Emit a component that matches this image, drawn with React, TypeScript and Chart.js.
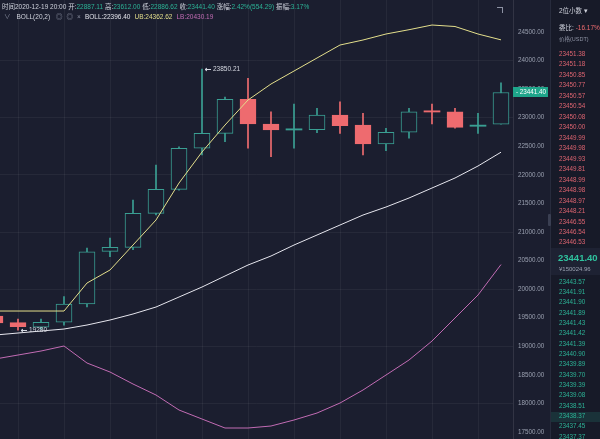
import React, { useEffect, useRef } from "react";
import { Chart, registerables } from "chart.js";

Chart.register(...registerables);

// ---------------- data ----------------
const candleIdx = [0, 1, 2, 3, 4, 5, 6, 7, 8, 9, 10, 11, 12, 13, 14, 15, 16, 17, 18, 19, 20, 21, 22];
const opens = [19530, 19415, 19335, 19420, 19740, 20660, 20730, 21325, 21745, 22465, 22727, 23322, 22890, 22785, 22790, 23045, 22870, 22540, 22745, 23110, 23105, 22850, 22887.11];
const highs = [19560, 19475, 19475, 19870, 20720, 20895, 21560, 22170, 22490, 23850.21, 23360, 23690, 23105, 23240, 23165, 23280, 23077, 22815, 23165, 23240, 23165, 23077, 23612.0];
const lows = [19380, 19280, 19300, 19370, 19690, 20570, 20690, 21300, 21730, 22350, 22580, 22465, 22320, 22465, 22740, 22727, 22350, 22425, 22640, 22890, 22815, 22727, 22886.62];
const closes = [19408, 19345, 19420, 19740, 20655, 20730, 21325, 21745, 22465, 22727, 23322, 22890, 22785, 22800, 23045, 22860, 22540, 22745, 23105, 23100, 22832, 22860, 23441.4];

const bollUpper = [19617, 19617, 19617, 19617, 20107, 20335, 20772, 21210, 21857, 22400, 22872, 23310, 23590, 23817, 24045, 24272, 24360, 24465, 24540, 24622, 24596, 24465, 24362.62];
const bollMid = [19197, 19232, 19267, 19302, 19372, 19460, 19565, 19687, 19862, 20037, 20230, 20422, 20580, 20772, 20947, 21122, 21297, 21437, 21595, 21770, 21945, 22155, 22396.4];
const bollLower = [18777, 18847, 18917, 19005, 18707, 18550, 18340, 18147, 17885, 17727, 17570, 17570, 17605, 17710, 17832, 18007, 18235, 18497, 18760, 19092, 19495, 19897, 20430.19];

const yTicks = [17500, 18000, 18500, 19000, 19500, 20000, 20500, 21000, 21500, 22000, 22500, 23000, 23500, 24000, 24500];
const xGrid = [1, 3, 5, 7, 9, 11, 13, 15, 17, 19, 21];

const askPrices = ["23451.38", "23451.18", "23450.85", "23450.77", "23450.57", "23450.54", "23450.08", "23450.00", "23449.99", "23449.98", "23449.93", "23449.81", "23448.99", "23448.98", "23448.97", "23448.21", "23446.55", "23446.54", "23446.53"];
const bidPrices = ["23443.57", "23441.91", "23441.90", "23441.89", "23441.43", "23441.42", "23441.39", "23440.90", "23439.89", "23439.70", "23439.39", "23439.08", "23438.51", "23438.37", "23437.45", "23437.37"];

const headerTime = "2020-12-19 20:00";
const headerOpen = "22887.11";
const headerHigh = "23612.00";
const headerLow = "22886.62";
const headerClose = "23441.40";
const headerChange = "2.42%(554.29)";
const headerAmp = "3.17%";
const bollMidLabel = "22396.40";
const bollUpLabel = "24362.62";
const bollLowLabel = "20430.19";
const bookRatio = "-16.17%";
const lastCny = "¥150024.96";

// ---------------- styles ----------------
const BG = "#1b1e2f";
const PANEL_BG = "#171a28";
const UP = "#3a9f93";
const DOWN = "#ee6b6f";
const YELLOW = "#e4df8c";
const MIDC = "#e6e6ee";
const LOWC = "#c26cb4";
const TEAL = "#2cb396";
const LABEL = "#cfd2dc";
const GRAY = "#8d92a3";
const GRID = "rgba(255,255,255,0.05)";
const FONT = '"Liberation Sans", "Noto Sans CJK SC", sans-serif';

const X_MIN = 5 / 23;
const X_MAX = 518 / 23;
const Y_MIN = 17377.5;
const Y_MAX = 25060;

const overlayPlugin = {
  id: "overlay",
  afterDraw(chart: any) {
    const { ctx, chartArea, scales } = chart;
    const xs = scales.x;
    const ys = scales.y;
    ctx.save();
    ctx.font = `6.5px ${FONT}`;
    ctx.textBaseline = "middle";
    ctx.fillStyle = "#d4d7e0";
    ctx.strokeStyle = "#d4d7e0";
    ctx.lineWidth = 1;

    const marker = (idx: number, val: number) => {
      const px = Math.round(xs.getPixelForValue(candleIdx[idx])) + 3;
      const py = Math.round(ys.getPixelForValue(val)) + 0.5;
      ctx.beginPath();
      ctx.moveTo(px, py);
      ctx.lineTo(px + 6, py);
      ctx.moveTo(px, py);
      ctx.lineTo(px + 2, py - 1.5);
      ctx.moveTo(px, py);
      ctx.lineTo(px + 2, py + 1.5);
      ctx.stroke();
      ctx.fillText(String(val), px + 8, py);
    };
    const hi = Math.max(...highs);
    marker(highs.indexOf(hi), hi);
    const lo = Math.min(...lows);
    marker(lows.indexOf(lo), lo);

    // last price tag on the axis
    const last = closes[closes.length - 1];
    const ty = ys.getPixelForValue(last);
    ctx.fillStyle = "#1ea58a";
    ctx.fillRect(chartArea.right, Math.round(ty) - 5, 35, 10);
    ctx.fillStyle = "#ffffff";
    ctx.font = `6.3px ${FONT}`;
    ctx.fillText("- " + last.toFixed(2), chartArea.right + 3, Math.round(ty) + 0.5);
    ctx.restore();
  },
};

export default function App() {
  const ref = useRef<HTMLCanvasElement>(null);

  useEffect(() => {
    document.body.style.margin = "0";
    const isUp = opens.map((o, i) => closes[i] >= o);
    const isDoji = opens.map((o, i) => Math.abs(closes[i] - o) < 40);
    const chart = new Chart(ref.current as HTMLCanvasElement, {
      type: "bar",
      data: {
        datasets: [
          {
            type: "line",
            label: "UB",
            data: candleIdx.map((x, i) => ({ x, y: bollUpper[i] })),
            borderColor: YELLOW,
            borderWidth: 1,
            pointRadius: 0,
            order: 0,
          } as any,
          {
            type: "line",
            label: "BOLL",
            data: candleIdx.map((x, i) => ({ x, y: bollMid[i] })),
            borderColor: MIDC,
            borderWidth: 1,
            pointRadius: 0,
            order: 0,
          } as any,
          {
            type: "line",
            label: "LB",
            data: candleIdx.map((x, i) => ({ x, y: bollLower[i] })),
            borderColor: LOWC,
            borderWidth: 1,
            pointRadius: 0,
            order: 0,
          } as any,
          {
            type: "bar",
            label: "body",
            data: candleIdx.map((x, i) => ({ x, y: [opens[i], closes[i]] })),
            backgroundColor: isUp.map((u, i) => (u && !isDoji[i] ? BG : u ? UP : DOWN)),
            borderColor: isUp.map((u) => (u ? UP : DOWN)),
            borderWidth: isDoji.map((d) => (d ? 0 : 1)),
            borderSkipped: false,
            barThickness: 16,
            minBarLength: 1.2,
            grouped: false,
            order: 1,
          } as any,
          {
            type: "bar",
            label: "wick",
            data: candleIdx.map((x, i) => ({ x, y: [lows[i], highs[i]] })),
            backgroundColor: isUp.map((u) => (u ? UP : DOWN)),
            borderWidth: 0,
            barThickness: 1,
            grouped: false,
            order: 2,
          } as any,
        ],
      },
      options: {
        animation: false,
        responsive: false,
        maintainAspectRatio: false,
        devicePixelRatio: 1,
        layout: { padding: 0 },
        plugins: { legend: { display: false }, tooltip: { enabled: false } },
        scales: {
          x: {
            type: "linear",
            min: X_MIN,
            max: X_MAX,
            offset: false,
            ticks: { display: false },
            grid: { color: GRID, drawTicks: false, offset: false },
            border: { display: false },
            afterBuildTicks: (s: any) => {
              s.ticks = xGrid.map((v) => ({ value: v }));
            },
          },
          y: {
            type: "linear",
            position: "right",
            min: Y_MIN,
            max: Y_MAX,
            ticks: {
              color: "#9aa0b0",
              font: { family: FONT, size: 6.3 },
              padding: 5,
              callback: (v: any) => Number(v).toFixed(2),
            },
            grid: {
              drawTicks: false,
              color: (c: any) => (c.tick && c.tick.value % 1000 === 0 ? GRID : "rgba(0,0,0,0)"),
            },
            border: { color: "rgba(255,255,255,0.1)" },
            afterBuildTicks: (s: any) => {
              s.ticks = yTicks.map((v) => ({ value: v }));
            },
            afterFit: (s: any) => {
              s.width = 37;
              s.paddingTop = 0;
              s.paddingBottom = 0;
            },
          },
        },
      } as any,
      plugins: [overlayPlugin],
    });
    return () => chart.destroy();
  }, []);

  const rowStyle = (top: number, color: string, size = 6.3): React.CSSProperties => ({
    position: "absolute",
    left: 8,
    top: top - 4,
    height: 8,
    lineHeight: "8px",
    fontSize: size,
    color,
    whiteSpace: "nowrap",
  });

  return (
    <div
      style={{
        position: "fixed",
        left: 0,
        top: 0,
        width: 600,
        height: 439,
        background: BG,
        overflow: "hidden",
        fontFamily: FONT,
      }}
    >
      <canvas ref={ref} width={550} height={439} style={{ position: "absolute", left: 0, top: 0, width: 550, height: 439 }} />

      {/* header line 1 */}
      <div style={{ position: "absolute", left: 2, top: 3, fontSize: 6.5, lineHeight: "8px", whiteSpace: "nowrap", color: LABEL }}>
        时间{headerTime} 开:<span style={{ color: TEAL }}>{headerOpen}</span> 高:<span style={{ color: TEAL }}>{headerHigh}</span> 低:
        <span style={{ color: TEAL }}>{headerLow}</span> 收:<span style={{ color: TEAL }}>{headerClose}</span> 涨幅:
        <span style={{ color: TEAL }}>{headerChange}</span> 振幅:<span style={{ color: TEAL }}>{headerAmp}</span>
      </div>
      {/* header line 2 */}
      <div style={{ position: "absolute", left: 4, top: 13, fontSize: 6.5, lineHeight: "8px", whiteSpace: "nowrap", color: LABEL }}>
        <span style={{ color: GRAY }}>∨</span>
        <span style={{ marginLeft: 6 }}>BOLL(20,2)</span>
        <span style={{ marginLeft: 6, color: GRAY }}>◎</span>
        <span style={{ marginLeft: 4, color: GRAY }}>◎</span>
        <span style={{ marginLeft: 4, color: GRAY }}>×</span>
        <span style={{ marginLeft: 4, color: "#e2e3ea" }}>BOLL:{bollMidLabel}</span>
        <span style={{ marginLeft: 4, color: YELLOW }}>UB:{bollUpLabel}</span>
        <span style={{ marginLeft: 4, color: LOWC }}>LB:{bollLowLabel}</span>
      </div>
      {/* small corner icon */}
      <div style={{ position: "absolute", left: 497, top: 7, width: 5, height: 5, borderTop: `1px solid ${GRAY}`, borderRight: `1px solid ${GRAY}` }} />

      {/* right order-book panel */}
      <div style={{ position: "absolute", left: 550, top: 0, width: 50, height: 439, background: PANEL_BG, borderLeft: "1px solid #272b3c" }}>
        <div style={{ position: "absolute", left: -3, top: 214, width: 3, height: 12, background: "#3a3f52", borderRadius: 1 }} />
        <div style={rowStyle(10.7, LABEL, 6.5)}>2位小数 ▾</div>
        <div style={rowStyle(27.7, LABEL, 6.5)}>
          委比: <span style={{ color: DOWN }}>{bookRatio}</span>
        </div>
        <div style={rowStyle(38.5, GRAY, 5.5)}>价格(USDT)</div>
        {askPrices.map((p, k) => (
          <div key={"a" + k} style={rowStyle(54 + 10.47 * k, "#dd6470")}>
            {p}
          </div>
        ))}
        <div style={{ position: "absolute", left: 0, top: 248, width: 50, height: 27, background: "#1e2233" }} />
        <div style={{ ...rowStyle(257.5, "#2fc29e", 9.5), left: 7, fontWeight: 600, height: 12, lineHeight: "12px", top: 251.5 }}>
          {closes[closes.length - 1].toFixed(2)}
        </div>
        <div style={rowStyle(268.5, "#9aa0b0", 6)}>{lastCny}</div>
        <div style={{ position: "absolute", left: 0, top: 412, width: 50, height: 10, background: "rgba(44,179,150,0.16)" }} />
        {bidPrices.map((p, k) => (
          <div key={"b" + k} style={rowStyle(281.5 + 10.35 * k, TEAL)}>
            {p}
          </div>
        ))}
      </div>
    </div>
  );
}
